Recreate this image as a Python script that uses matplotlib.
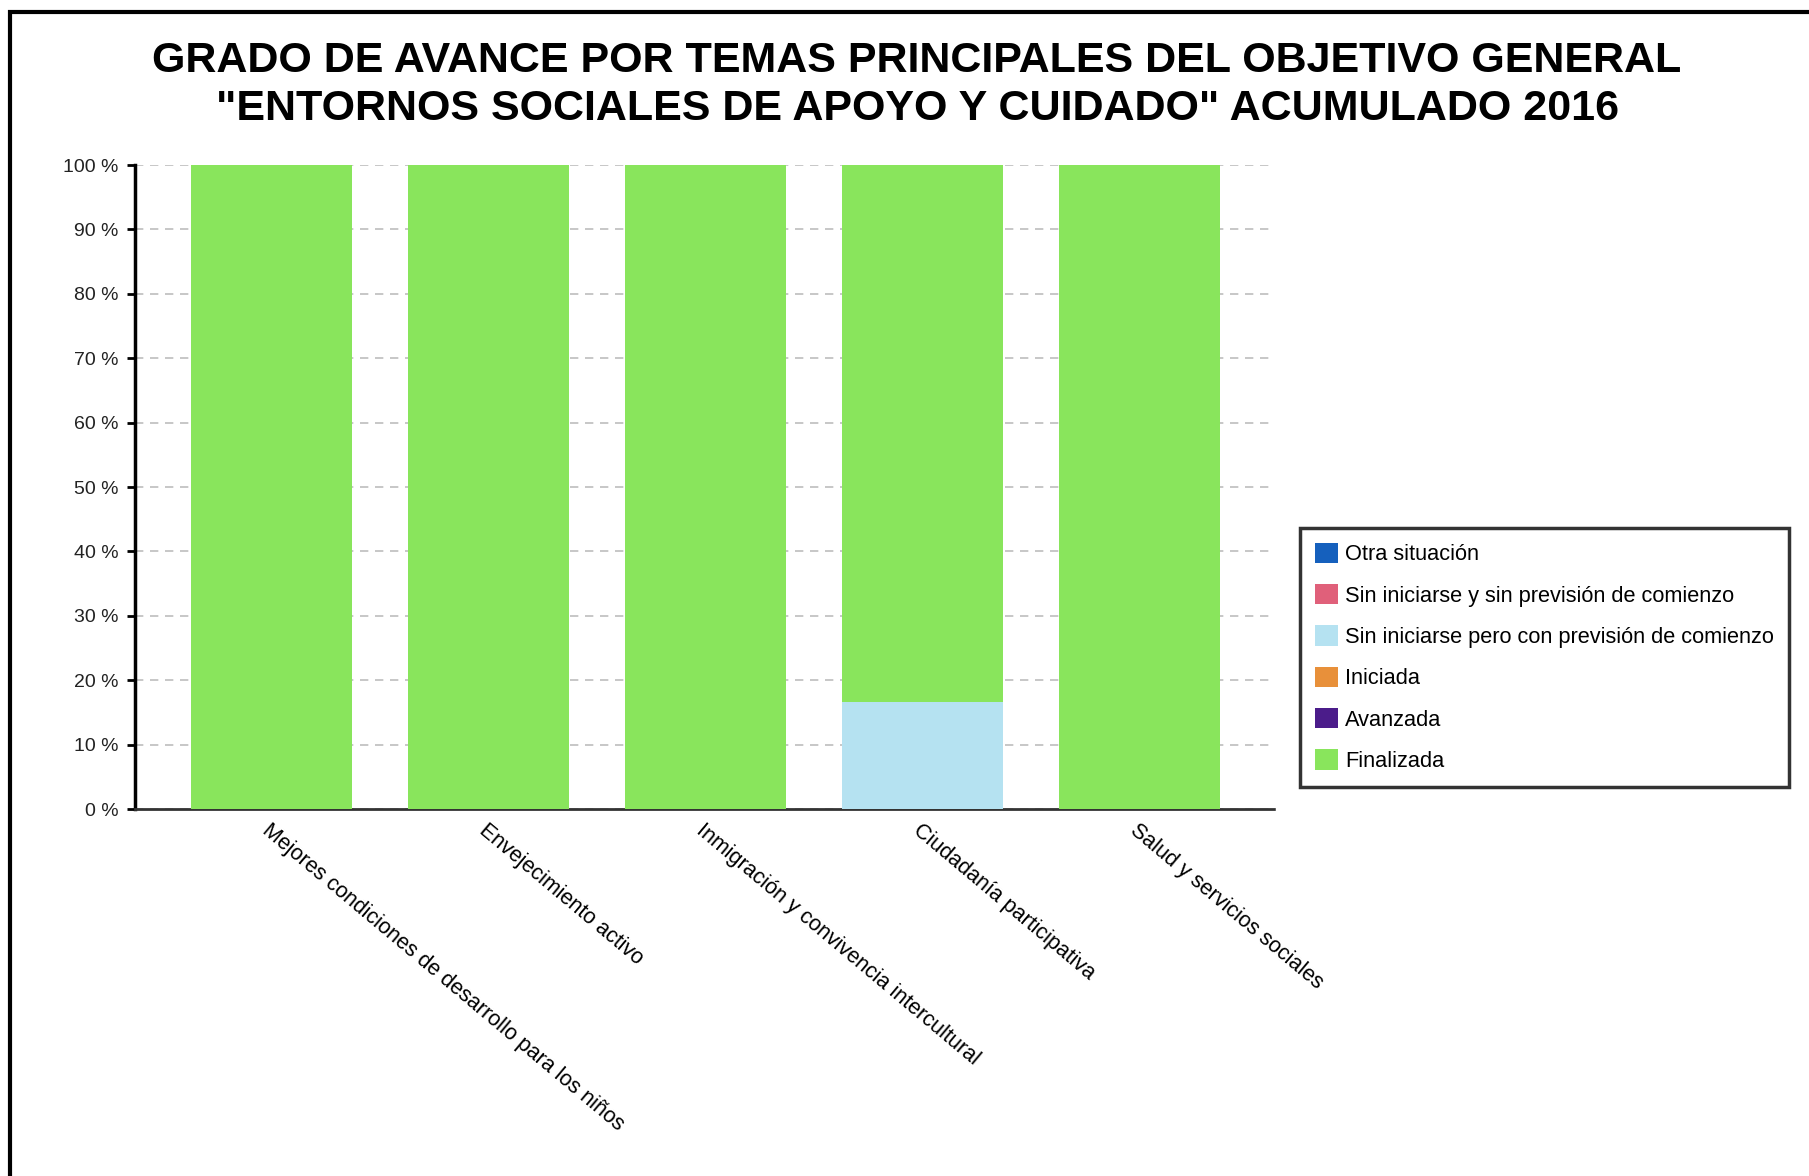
import numpy as np
import matplotlib
matplotlib.use("Agg")
from matplotlib import pyplot as plt
from matplotlib.patches import Rectangle

plt.rcParams['font.family'] = ['Liberation Sans', 'DejaVu Sans']

# datos (porcentaje por tema)
categorias = ["Mejores condiciones de desarrollo para los niños",
              "Envejecimiento activo",
              "Inmigración y convivencia intercultural",
              "Ciudadanía participativa",
              "Salud y servicios sociales"]
series = ["Otra situación",
          "Sin iniciarse y sin previsión de comienzo",
          "Sin iniciarse pero con previsión de comienzo",
          "Iniciada",
          "Avanzada",
          "Finalizada"]
otra = [0, 0, 0, 0, 0]
sin_sin = [0, 0, 0, 0, 0]
sin_con = [0, 0, 0, 16.67, 0]
iniciada = [0, 0, 0, 0, 0]
avanzada = [0, 0, 0, 0, 0]
finalizada = [100, 100, 100, 83.33, 100]
colores = ["#1560bd", "#e0607a", "#b5e2f1", "#e8903a", "#4b1c8a", "#89e55c"]
yticks = [0, 10, 20, 30, 40, 50, 60, 70, 80, 90, 100]

valores = [otra, sin_sin, sin_con, iniciada, avanzada, finalizada]

fig = plt.figure(figsize=(18.09, 11.76), dpi=100)
ax = fig.add_axes([135 / 1809, 1 - 809 / 1176, (1275 - 135) / 1809, (809 - 165) / 1176])

x = np.arange(len(categorias))
base = np.zeros(len(categorias))
for nombre, vals, col in zip(series, valores, colores):
    vals = np.array(vals, dtype=float)
    ax.bar(x, vals, width=0.74, bottom=base, color=col, label=nombre, zorder=3)
    base += vals

ax.set_xlim(-0.63, 4.625)
ax.set_ylim(0, 100)
ax.set_yticks(yticks)
ax.set_yticklabels([f"{v} %" for v in yticks], fontsize=14, color="#222222")
ax.set_xticks(x)
ax.set_xticklabels(categorias, rotation=-40, ha="left", va="top",
                   rotation_mode="anchor", fontsize=15.5)
ax.tick_params(axis="x", length=0, pad=8)
ax.tick_params(axis="y", length=6, width=2, color="black", pad=6)
ax.yaxis.grid(True, linestyle=(0, (5, 4)), color="#bdbdbd", linewidth=1.2, zorder=0)

for s in ["top", "right"]:
    ax.spines[s].set_visible(False)
ax.spines["left"].set_linewidth(2.5)
ax.spines["left"].set_color("black")
ax.spines["bottom"].set_linestyle((0, (2, 1)))
ax.spines["bottom"].set_linewidth(2)
ax.spines["bottom"].set_color("#333333")

leg = ax.legend(loc="upper left", bbox_to_anchor=(1300 / 1809, 1 - 528 / 1176),
                bbox_transform=fig.transFigure, frameon=True, fancybox=False,
                fontsize=15.7, handlelength=1.05, handleheight=1.05,
                handletextpad=0.35, labelspacing=0.86, borderpad=0.68,
                borderaxespad=0)
leg.get_frame().set_edgecolor("black")
leg.get_frame().set_linewidth(2.5)

fig.text(917 / 1809, 1 - 61 / 1176,
         "GRADO DE AVANCE POR TEMAS PRINCIPALES DEL OBJETIVO GENERAL",
         ha="center", va="center", fontsize=31, fontweight="bold")
fig.text(917 / 1809, 1 - 109 / 1176,
         "\"ENTORNOS SOCIALES DE APOYO Y CUIDADO\" ACUMULADO 2016",
         ha="center", va="center", fontsize=31, fontweight="bold")

# marco exterior
fig.patches.append(Rectangle((10 / 1809, -0.1), 1.2, 1 - 12 / 1176 + 0.1,
                             transform=fig.transFigure, fill=False,
                             edgecolor="black", linewidth=3))

fig.savefig("out.png", dpi=100, facecolor="white")
